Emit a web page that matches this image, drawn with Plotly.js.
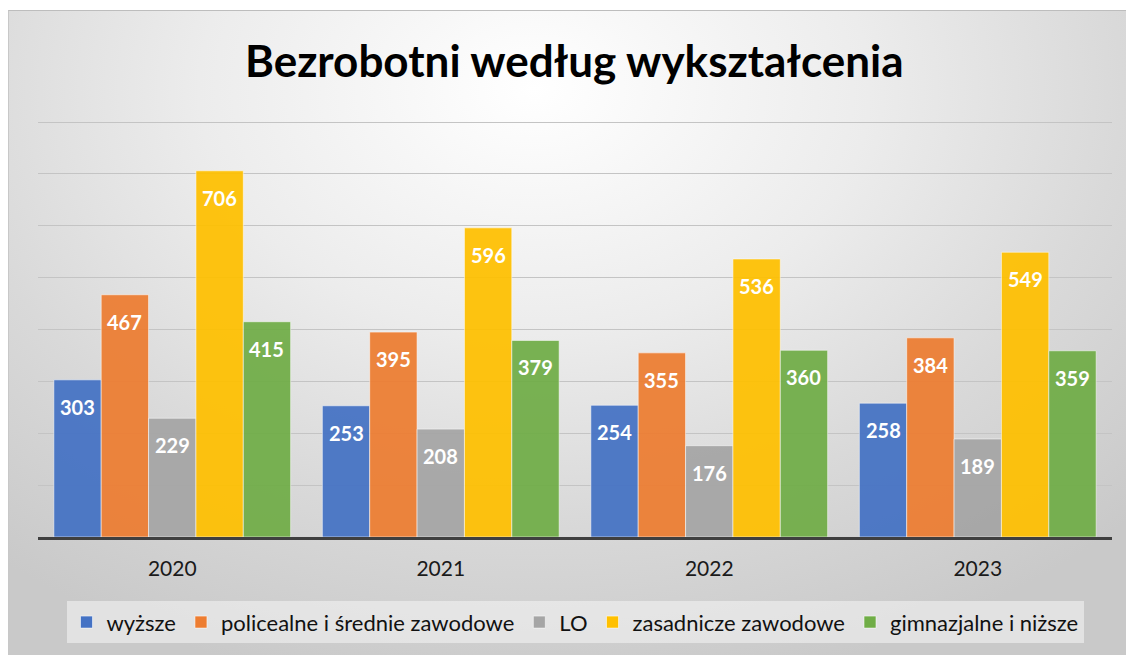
<!DOCTYPE html>
<html>
<head>
<meta charset="utf-8">
<script src="https://cdn.plot.ly/plotly-3.0.1.min.js"></script>
<style>
  html, body { margin: 0; padding: 0; background: #ffffff; }
  #bg {
    position: absolute; left: 8px; top: 10px; width: 1118px; height: 645px;
    border-top: 1px solid #bdbdbd; border-left: 1px solid #c8c8c8;
    background: radial-gradient(ellipse 75% 95% at 47% 12%, #ffffff 0%, #ececec 40%, #d9d9d9 70%, #c9c9c9 100%);
  }
  #chart { position: absolute; left: 0; top: 0; width: 1126px; height: 655px; }
</style>
</head>
<body>
<div id="bg"></div>
<div id="chart"></div>
<script>
const years = ["2020", "2021", "2022", "2023"];
const seriesNames = ["wyższe", "policealne i średnie zawodowe", "LO", "zasadnicze zawodowe", "gimnazjalne i niższe"];
const wyzsze = [303, 253, 254, 258];
const policealne = [467, 395, 355, 384];
const lo = [229, 208, 176, 189];
const zasadnicze = [706, 596, 536, 549];
const gimnazjalne = [415, 379, 360, 359];
const colors = ["#4472C4", "#ED7D31", "#A5A5A5", "#FFC000", "#70AD47"];

const seriesValues = [wyzsze, policealne, lo, zasadnicze, gimnazjalne];
const bargap = 0.118;
const nSeries = seriesValues.length;
const barW = (1 - bargap) / nSeries;

const FONT = "Lato, 'Open Sans', sans-serif";

const traces = seriesValues.map((vals, i) => ({
  type: "bar",
  name: seriesNames[i],
  x: years,
  y: vals,
  marker: { color: colors[i], opacity: 0.93, line: { color: "rgba(255,255,255,0.55)", width: 1 } },
  hoverinfo: "x+y+name"
}));

const annotations = [];
seriesValues.forEach((vals, i) => {
  vals.forEach((v, j) => {
    annotations.push({
      xref: "x", yref: "y",
      x: j + (i - (nSeries - 1) / 2) * barW,
      y: v,
      yshift: -27,
      text: String(v),
      showarrow: false,
      font: { family: FONT, size: 20, color: "#ffffff", weight: "bold" }
    });
  });
});

const layout = {
  width: 1126, height: 655,
  paper_bgcolor: "rgba(0,0,0,0)",
  plot_bgcolor: "rgba(0,0,0,0)",
  margin: { l: 38, r: 14, t: 121, b: 116 },
  title: {
    text: "<b>Bezrobotni według wykształcenia</b>",
    x: 0.51, xanchor: "center",
    y: 0.906, yanchor: "middle",
    font: { family: FONT, size: 44, color: "#000000" }
  },
  barmode: "group",
  bargap: bargap,
  bargroupgap: 0,
  xaxis: {
    type: "category",
    showgrid: false,
    showline: true, linecolor: "#3f3f3f", linewidth: 3,
    ticks: "",
    ticklabelstandoff: 11,
    tickfont: { family: FONT, size: 21, color: "#1a1a1a" }
  },
  yaxis: {
    range: [0, 802],
    tickvals: [100, 200, 300, 400, 500, 600, 700, 800],
    showticklabels: false,
    showgrid: true, gridcolor: "#c4c4c4", gridwidth: 1,
    zeroline: false,
    ticks: ""
  },
  showlegend: true,
  legend: {
    orientation: "h",
    x: 0.5, xanchor: "center",
    y: -0.205, yanchor: "middle",
    bgcolor: "rgba(245,245,245,0.55)",
    font: { family: FONT, size: 22, color: "#111111" },
    itemclick: false, itemdoubleclick: false
  },
  annotations: annotations
};

Plotly.newPlot("chart", traces, layout, { displayModeBar: false, responsive: false });
</script>
</body>
</html>
